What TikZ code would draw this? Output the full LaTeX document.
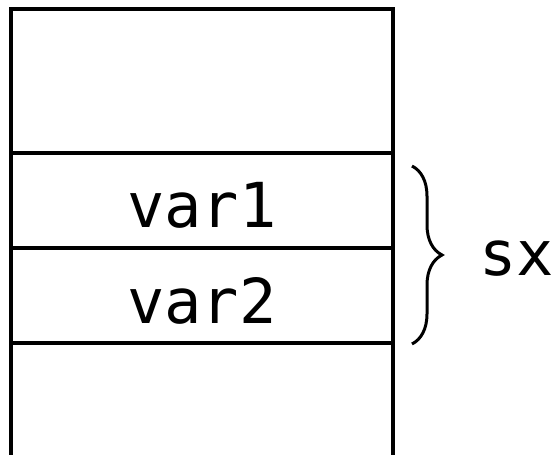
\documentclass[tikz,border=0pt]{standalone}
\usepackage{fontspec}
\setmonofont{DejaVu Sans Mono}
\usetikzlibrary{decorations.pathreplacing}
\begin{document}
\begin{tikzpicture}[x=1pt,y=1pt,
  cell/.style={draw=black,line width=4pt,minimum width=382.5pt,inner sep=0pt,outer sep=0pt,anchor=north west},
  lbl/.style={font=\fontsize{62}{62}\selectfont\ttfamily,inner sep=0pt,anchor=base},
  bracestyle/.style={line width=3pt,decorate,decoration={brace,amplitude=30pt}}]
\useasboundingbox (0,0) rectangle (558,-455);
\node[cell,minimum height=144pt] (c1) at (10.5,-9) {};
\node[cell,minimum height=95pt] (c2) at (10.5,-153) {};
\node[cell,minimum height=95pt] (c3) at (10.5,-248) {};
\node[cell,minimum height=114pt] (c4) at (10.5,-343) {};
\node[lbl] (v1) at (202,-227) {var1};
\node[lbl] (v2) at (202,-323) {var2};
\coordinate (bt) at (412,-166);
\coordinate (bb) at (412,-344);
\draw[bracestyle] (bt) -- (bb);
\node[lbl,anchor=base west] (sx) at (479,-275) {sx};
\end{tikzpicture}
\end{document}
